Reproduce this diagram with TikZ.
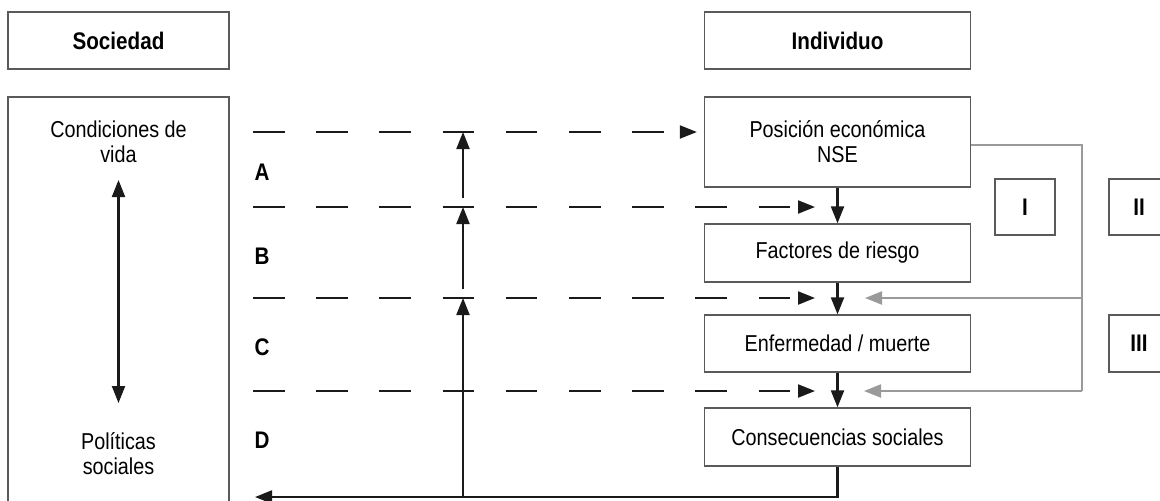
\documentclass[tikz,border=0pt]{standalone}
\usepackage{fontspec}
\setmainfont{Liberation Sans}[FakeStretch=0.86]
\usetikzlibrary{arrows.meta}

\definecolor{ink}{HTML}{1A1A1A}
\definecolor{boxgray}{HTML}{5A5A5A}
\definecolor{linkgray}{HTML}{9A9A9A}

\begin{document}
\begin{tikzpicture}[x=0.5pt, y=-0.5pt,
  box/.style={draw=boxgray, line width=0.65pt, inner sep=0pt, align=center,
    font=\fontsize{11.5}{12.5}\selectfont},
  headbox/.style={box, font=\fontsize{12}{13}\selectfont\bfseries},
  zone/.style={inner sep=0pt, font=\fontsize{12}{13}\selectfont\bfseries},
  txt/.style={inner sep=0pt, align=center, font=\fontsize{11.5}{12.5}\selectfont},
  link/.style={draw=ink, line width=1.05pt, -{Triangle[length=8.5pt,width=6.5pt]}},
  dashlink/.style={link, dash pattern=on 15.8pt off 15.8pt},
  greylink/.style={draw=linkgray, line width=1.05pt, -{Triangle[length=8.5pt,width=6.5pt]}}]
  \useasboundingbox (0,0) rectangle (1160,500);

  % headers
  \node[headbox, minimum width=110.5pt, minimum height=28.5pt] (soc) at (118.5,40.5) {Sociedad};
  \node[headbox, minimum width=133pt, minimum height=28.5pt] (ind) at (837.5,40.5) {Individuo};

  % society column
  \node[box, minimum width=110.5pt, minimum height=211.5pt] (socbox) at (118.5,308.5) {};
  \node[txt] (cond) at (118.5,142) {Condiciones de\\vida};
  \node[txt] (pol) at (118.5,454) {Políticas\\sociales};
  \coordinate (vtop) at (118.5,180);
  \coordinate (vbot) at (118.5,403);
  \draw[link, {Triangle[length=8.5pt,width=6.5pt]}-{Triangle[length=8.5pt,width=6.5pt]}] (vtop) -- (vbot);

  % individual chain
  \node[box, minimum width=133pt, minimum height=45pt] (pos) at (837.5,142) {Posición económica\\NSE};
  \node[box, minimum width=133pt, minimum height=29pt] (fac) at (837.5,253) {Factores de riesgo};
  \node[box, minimum width=133pt, minimum height=28.5pt] (enf) at (837.5,343.5) {Enfermedad / muerte};
  \node[box, minimum width=133pt, minimum height=29pt] (con) at (837.5,437) {Consecuencias sociales};
  \draw[link] (pos) -- (fac);
  \draw[link] (fac) -- (enf);
  \draw[link] (enf) -- (con);

  % pathways
  \node[headbox, minimum width=30pt, minimum height=28pt] (p1) at (1025,207) {I};
  \node[headbox, minimum width=30pt, minimum height=28pt] (p2) at (1139,207) {II};
  \node[headbox, minimum width=30pt, minimum height=28.5pt] (p3) at (1139,343.5) {III};

  % zones
  \node[zone] (za) at (262,172) {A};
  \node[zone] (zb) at (262,256) {B};
  \node[zone] (zc) at (262,347) {C};
  \node[zone] (zd) at (262,440) {D};

  % dashed rows
  \foreach \n/\y in {1/132,2/207,3/298,4/391}
    \coordinate (row\n) at (253,\y);
  \draw[dashlink, shorten >=3.5pt] (row1) -- (row1 -| pos.west);
  \foreach \n in {2,3,4}
    \draw[dashlink, shorten >=11.25pt] (row\n) -- (row\n -| fac.center);

  % grey feedback
  \coordinate (gtop) at (1082,145);
  \coordinate (g3) at (1082,298);
  \coordinate (g4) at (1082,391);
  \coordinate (t3) at (865,298);
  \coordinate (t4) at (864,391);
  \draw[draw=linkgray, line width=1.05pt] (pos.east |- gtop) -- (gtop) -- (g4);
  \draw[greylink] (g3) -- (t3);
  \draw[greylink] (g4) -- (t4);

  % return to society
  \coordinate (up) at (463,497);
  \coordinate (back) at (255,497);
  \draw[link] (con.south) |- (back);
  \draw[link] (up) -- (up |- row3);
  \draw[link, shorten <=4.5pt] (up |- row3) -- (up |- row2);
  \draw[link, shorten <=4.5pt] (up |- row2) -- (up |- row1);
\end{tikzpicture}
\end{document}
